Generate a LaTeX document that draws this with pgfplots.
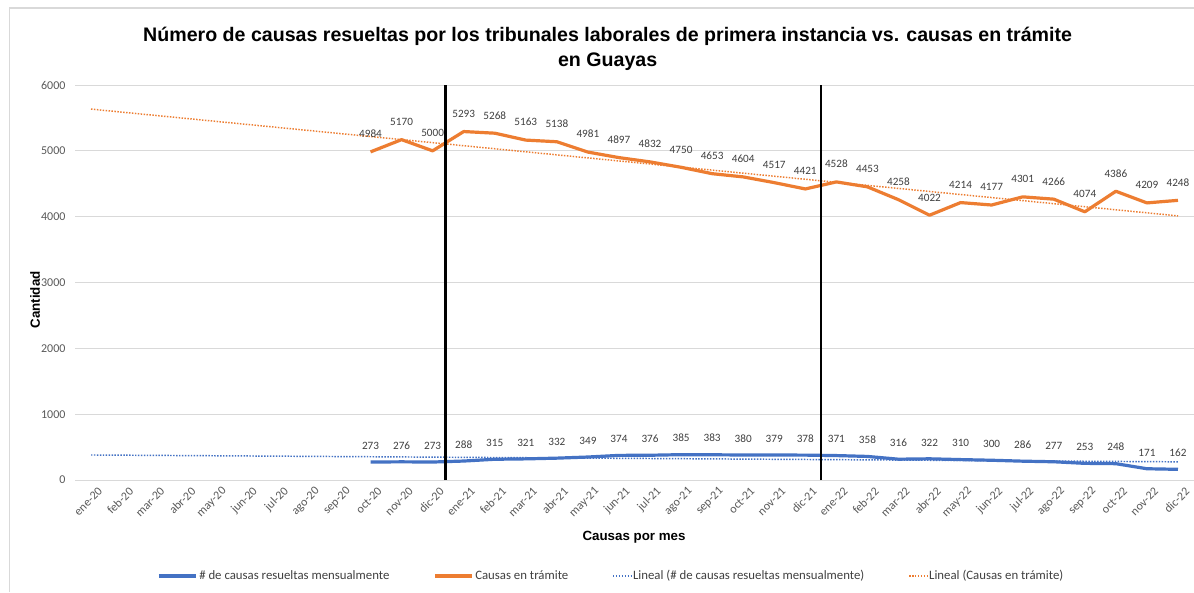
\documentclass[border=0pt]{standalone}
\usepackage{pgfplots}
\pgfplotsset{compat=1.18}
\usepackage{pgfplotstable}
\usepackage{fontspec}
\setmainfont{Carlito}
\newfontfamily\arialfont{Liberation Sans}
\definecolor{cblue}{HTML}{4472C4}
\definecolor{corange}{HTML}{ED7D31}
\definecolor{gridgray}{HTML}{D9D9D9}
\definecolor{ticktext}{HTML}{595959}
\definecolor{labtext}{HTML}{404040}

\pgfplotstableread{
x resueltas tramite
9  273 4984
10 276 5170
11 273 5000
12 288 5293
13 315 5268
14 321 5163
15 332 5138
16 349 4981
17 374 4897
18 376 4832
19 385 4750
20 383 4653
21 380 4604
22 379 4517
23 378 4421
24 371 4528
25 358 4453
26 316 4258
27 322 4022
28 310 4214
29 300 4177
30 286 4301
31 277 4266
32 253 4074
33 248 4386
34 171 4209
35 162 4248
}\datatable

\begin{document}
\begin{tikzpicture}
\useasboundingbox (-56.625pt,-84pt) rectangle (838.875pt,360pt);
\fill[white] (-56.625pt,-84pt) rectangle (838.875pt,360pt);
\draw[gridgray, line width=0.9pt] (-49.5pt,-84pt) -- (-49.5pt,354pt) -- (840pt,354pt);
\begin{axis}[
  at={(0,0)}, anchor=south west,
  width=838.5pt, height=296.25pt, scale only axis,
  xmin=-0.5, xmax=35.5, ymin=0, ymax=6000,
  ytick={0,1000,2000,3000,4000,5000,6000},
  xtick={0,1,...,35},
  xticklabels={ene-20,feb-20,mar-20,abr-20,may-20,jun-20,jul-20,ago-20,sep-20,oct-20,nov-20,dic-20,ene-21,feb-21,mar-21,abr-21,may-21,jun-21,jul-21,ago-21,sep-21,oct-21,nov-21,dic-21,ene-22,feb-22,mar-22,abr-22,may-22,jun-22,jul-22,ago-22,sep-22,oct-22,nov-22,dic-22},
  axis line style={draw=none},
  major tick length=0pt,
  ymajorgrids,
  grid style={color=gridgray, line width=0.75pt},
  tick label style={font=\fontsize{9}{11}\selectfont, color=ticktext},
  /pgf/number format/assume math mode=true,
  /pgf/number format/1000 sep={},
  scaled y ticks=false,
  xticklabel style={rotate=45, anchor=east, inner sep=1pt, yshift=-10pt, xshift=1pt},
  yticklabel style={xshift=-4pt},
  clip=false,
  title={Número de causas resueltas por los tribunales laborales de primera instancia vs. causas en trámite\\en Guayas},
  title style={at={(axis description cs:0.476,1)}, anchor=center, yshift=21.4pt, align=center, font=\arialfont\bfseries\fontsize{14.7}{18.75}\selectfont},
  xlabel={Causas por mes},
  xlabel style={at={(axis description cs:0.4996,-0.1443)}, anchor=center, font=\arialfont\bfseries\fontsize{10}{12}\selectfont},
  ylabel={Cantidad},
  ylabel style={at={(axis description cs:-0.0362,0.456)}, anchor=center, rotate=0, font=\arialfont\bfseries\fontsize{10}{12}\selectfont},
  legend columns=4,
  legend style={at={(axis description cs:0.479,-0.243)}, anchor=center, draw=none, fill=none,
    font=\fontsize{9.6}{11}\selectfont, text=labtext,
    /tikz/every odd column/.append style={column sep=0pt},
    /tikz/every even column/.append style={column sep=32pt},
    nodes={inner xsep=1pt},
    inner sep=0pt},
  legend cell align=left,
]
\addplot[cblue, line width=2.4pt, line join=round,
  legend image code/.code={\draw[cblue, line width=2.4pt] (0pt,0pt) -- (28pt,0pt);},
  nodes near coords, nodes near coords style={font=\fontsize{8.4}{10}\selectfont, text=labtext, anchor=south, yshift=5pt}]
  table[x=x, y=resueltas] {\datatable};
\addlegendentry{\# de causas resueltas mensualmente}
\addplot[corange, line width=2.4pt, line join=round,
  legend image code/.code={\draw[corange, line width=2.4pt] (0pt,0pt) -- (28pt,0pt);},
  nodes near coords, nodes near coords style={font=\fontsize{8.4}{10}\selectfont, text=labtext, anchor=south, yshift=6pt}]
  table[x=x, y=tramite] {\datatable};
\addlegendentry{Causas en trámite}
\addplot[cblue, line width=1.1pt, dash pattern=on 1.1pt off 1.1pt,
  legend image code/.code={\draw[cblue, line width=1.1pt, dash pattern=on 1.1pt off 1.1pt] (0pt,0pt) -- (13.5pt,0pt);}]
  coordinates {(0,380) (35,276)};
\addlegendentry{Lineal (\# de causas resueltas mensualmente)}
\addplot[corange, line width=1.1pt, dash pattern=on 1.1pt off 1.1pt,
  legend image code/.code={\draw[corange, line width=1.1pt, dash pattern=on 1.1pt off 1.1pt] (0pt,0pt) -- (13.5pt,0pt);}]
  coordinates {(0,5634) (35,4012)};
\addlegendentry{Lineal (Causas en trámite)}
\addplot[black, line width=1.9pt, forget plot] coordinates {(11.42,0) (11.42,6000)};
\addplot[black, line width=1.9pt, forget plot] coordinates {(23.5,0) (23.5,6000)};
\end{axis}
\end{tikzpicture}
\end{document}
